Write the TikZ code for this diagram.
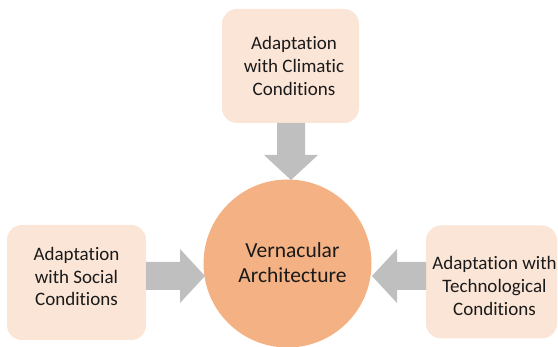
\documentclass[tikz,border=0pt]{standalone}
\usepackage{fontspec}
\setmainfont{Carlito}[Ligatures={NoCommon}]
\usetikzlibrary{calc}
\definecolor{boxfill}{HTML}{FBE5D6}
\definecolor{circfill}{HTML}{F4B183}
\definecolor{arrowgray}{HTML}{BFBFBF}
\definecolor{txt}{HTML}{1A1A1A}
\tikzset{
  infobox/.style={fill=boxfill, draw=none, rounded corners=15pt, inner sep=0pt},
  boxtext/.style={align=center, inner sep=0pt, text=txt, font=\fontsize{19}{22.7}\selectfont},
  hubcircle/.style={circle, fill=circfill, draw=none, inner sep=0pt, minimum size=168pt},
  hubtext/.style={align=center, inner sep=0pt, text=txt, font=\fontsize{21.5}{25}\selectfont},
}
% block arrow from #1 to #2 (tip at #2)
\newcommand\blockarrow[2]{%
  \coordinate (hb) at ($(#2)!25pt!(#1)$);
  \fill[arrowgray]
    ($(#1)!14pt!90:(#2)$) -- ($(hb)!14pt!-90:(#1)$) -- ($(hb)!27pt!-90:(#1)$) --
    (#2) --
    ($(hb)!27pt!90:(#1)$) -- ($(hb)!14pt!90:(#1)$) -- ($(#1)!14pt!-90:(#2)$) -- cycle;
}
\begin{document}
\begin{tikzpicture}[x=1pt,y=-1pt]
\useasboundingbox (0,0) rectangle (558,347);
% boxes
\node[infobox, minimum width=137pt, minimum height=114pt] (topbox) at (290.5,66) {};
\node[infobox, minimum width=139pt, minimum height=115pt] (leftbox) at (76.5,282.5) {};
\node[infobox, minimum width=131pt, minimum height=113pt] (rightbox) at (491.5,282) {};
\node[hubcircle] (hub) at (287.5,263.5) {};
% arrows
\coordinate (topstart) at (291,123);
\coordinate (topend) at (291,180);
\coordinate (leftstart) at (146,276);
\coordinate (leftend) at (205,276);
\coordinate (rightstart) at (426,276);
\coordinate (rightend) at (372,276);
\blockarrow{topstart}{topend}
\blockarrow{leftstart}{leftend}
\blockarrow{rightstart}{rightend}
% texts
\node[boxtext] (toptext) at (294,66) {Adaptation\\with Climatic\\Conditions};
\node[boxtext] (lefttext) at (76.5,276.5) {Adaptation\\with Social\\Conditions};
\node[boxtext] (righttext) at (494.5,286) {Adaptation with\\Technological\\Conditions};
\node[hubtext] (hubtxt) at (292.5,263) {Vernacular\\Architecture};
\end{tikzpicture}
\end{document}
